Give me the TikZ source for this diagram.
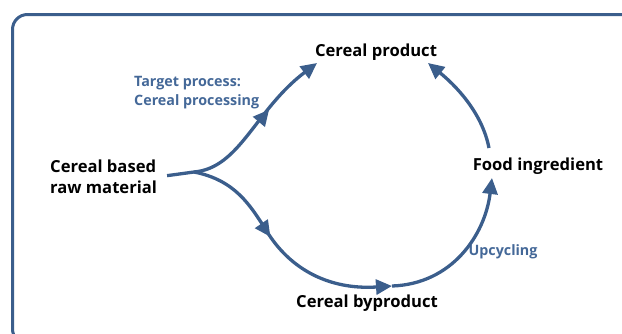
\documentclass[tikz,border=0pt]{standalone}
\usepackage{fontspec}
\setmainfont{Open Sans}
\usetikzlibrary{arrows.meta, decorations.markings, positioning}
\definecolor{flowblue}{RGB}{59,94,140}
\definecolor{noteblue}{RGB}{68,104,152}
\tikzset{
  stage/.style={font=\fontsize{16.6}{21}\selectfont\bfseries, text=black, inner sep=0pt},
  note/.style={font=\fontsize{14.3}{19}\selectfont\bfseries, text=noteblue, inner sep=0pt},
  flow/.style={draw=flowblue, line width=3.3pt, -{Triangle[length=16pt,width=15pt]}},
  midtip/.style={postaction={decorate}, decoration={markings,
      mark=at position #1 with {\arrow[flowblue]{Triangle[length=16pt,width=15pt]}}}},
  frame/.style={draw=flowblue, line width=3pt, rounded corners=15pt},
}

\begin{document}
\begin{tikzpicture}[x=1pt, y=-1pt]
  \useasboundingbox (0,0) rectangle (622,333);
  % outer frame (runs off the page)
  \draw[frame] (12.5,344) rectangle (650,14.5);
  % stages
  \node[stage, anchor=west, align=left] (raw) at (50,177) {Cereal based\\raw material};
  \node[stage] (product) at (376,52) {Cereal product};
  \node[stage] (byproduct) at (367,303) {Cereal byproduct};
  \node[stage] (ingredient) at (538,166) {Food ingredient};
  % process notes
  \node[note, anchor=west, align=left] (target) at (134,92.5) {Target process:\\Cereal processing};
  \node[note] (upcycling) at (503,252) {Upcycling};
  % path points
  \coordinate (fork) at (194,172);
  \coordinate (pin) at (317,63);
  \coordinate (bend) at (392,286);
  \coordinate (inpin) at (492,178);
  \coordinate (outpin) at (489,148);
  \coordinate (ppin) at (428,63);
  % flows
  \draw[flow, -, shorten <=10pt] (raw.east) -- (fork);
  \draw[flow, midtip=0.6] (fork) .. controls (240,168) and (255,110) .. (pin);
  \draw[flow, midtip=0.43] (fork) .. controls (235,180) and (250,205) .. (266,230)
    .. controls (290,270) and (330,290) .. (bend);
  \draw[flow] (bend) .. controls (452,284) and (485,235) .. (inpin);
  \draw[flow] (outpin) .. controls (482,112) and (455,85) .. (ppin);
\end{tikzpicture}
\end{document}
